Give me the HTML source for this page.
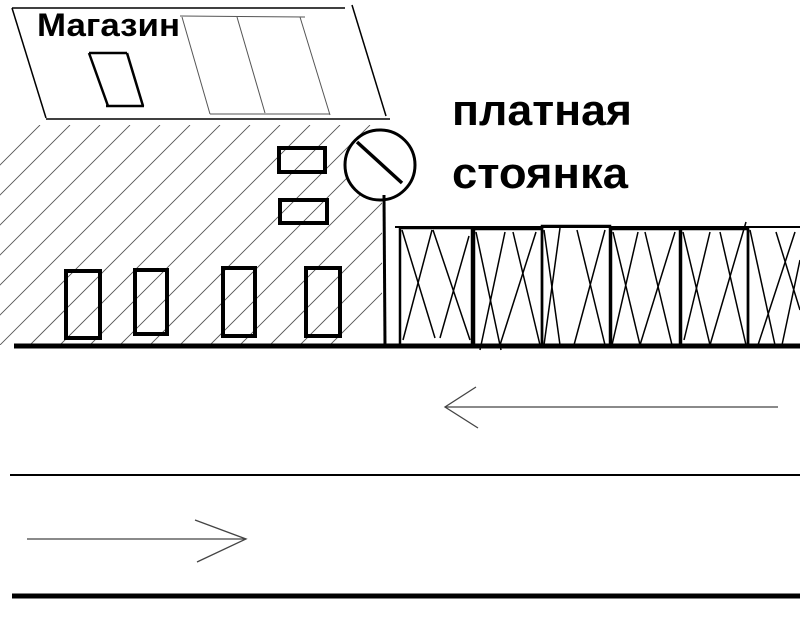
<!DOCTYPE html>
<html><head><meta charset="utf-8"><style>html,body{margin:0;padding:0;background:#fff}svg{display:block}</style></head>
<body>
<svg width="800" height="640" viewBox="0 0 800 640" xmlns="http://www.w3.org/2000/svg">
<defs><clipPath id="c"><rect x="0" y="125" width="382" height="220"/></clipPath></defs>
<rect width="800" height="640" fill="#fff"/>
<g stroke="#000" fill="none" stroke-width="1.5">
<line x1="12" y1="8" x2="345" y2="8"/>
<line x1="12" y1="8" x2="46" y2="118"/>
<line x1="352" y1="5" x2="386" y2="116"/>
<line x1="46" y1="119" x2="390" y2="119"/>
</g>
<g stroke="#555" fill="none" stroke-width="1">
<line x1="180" y1="16" x2="305" y2="17"/>
<line x1="182" y1="17" x2="210" y2="114"/>
<line x1="237" y1="17" x2="265" y2="113"/>
<line x1="300" y1="17" x2="330" y2="115"/>
<line x1="210" y1="114" x2="330" y2="114"/>
</g>
<g stroke="#000" fill="none" stroke-width="2.5">
<line x1="89" y1="53" x2="127" y2="53"/>
<line x1="89" y1="53" x2="108" y2="106"/>
<line x1="127" y1="53" x2="143" y2="106"/>
<line x1="106" y1="106" x2="144" y2="106"/>
</g>
<text x="37" y="36" font-family="Liberation Sans, sans-serif" font-weight="bold" font-size="32" textLength="143" lengthAdjust="spacingAndGlyphs" fill="#000">Магазин</text>
<g clip-path="url(#c)" stroke="#555" stroke-width="0.9">
<line x1="-60" y1="345" x2="160" y2="125"/>
<line x1="-90" y1="345" x2="130" y2="125"/>
<line x1="-120" y1="345" x2="100" y2="125"/>
<line x1="-150" y1="345" x2="70" y2="125"/>
<line x1="-180" y1="345" x2="40" y2="125"/>
<line x1="-30" y1="345" x2="190" y2="125"/>
<line x1="0" y1="345" x2="220" y2="125"/>
<line x1="30" y1="345" x2="250" y2="125"/>
<line x1="60" y1="345" x2="280" y2="125"/>
<line x1="90" y1="345" x2="310" y2="125"/>
<line x1="120" y1="345" x2="340" y2="125"/>
<line x1="150" y1="345" x2="370" y2="125"/>
<line x1="180" y1="345" x2="400" y2="125"/>
<line x1="210" y1="345" x2="430" y2="125"/>
<line x1="240" y1="345" x2="460" y2="125"/>
<line x1="270" y1="345" x2="490" y2="125"/>
<line x1="300" y1="345" x2="520" y2="125"/>
<line x1="330" y1="345" x2="550" y2="125"/>
</g>
<g stroke="#000" fill="none" stroke-width="4">
<rect x="279" y="148" width="46" height="24"/>
<rect x="280" y="200" width="47" height="23"/>
<rect x="66" y="271" width="34" height="67"/>
<rect x="135" y="270" width="32" height="64"/>
<rect x="223" y="268" width="32" height="68"/>
<rect x="306" y="268" width="34" height="68"/>
</g>
<circle cx="380" cy="165" r="35" stroke="#000" stroke-width="3" fill="#fff"/>
<line x1="357" y1="142" x2="402" y2="183" stroke="#000" stroke-width="3.5"/>
<line x1="384" y1="195" x2="385" y2="347" stroke="#000" stroke-width="3"/>
<line x1="395" y1="227" x2="800" y2="227" stroke="#000" stroke-width="2"/>
<g stroke="#000" fill="none" stroke-width="2.5">
<rect x="400" y="228" width="72" height="118"/>
<rect x="474" y="229" width="68" height="117"/>
<rect x="542" y="226" width="68" height="121"/>
<rect x="611" y="229" width="69" height="117"/>
<rect x="681" y="229" width="67" height="117"/>
<line x1="748" y1="229" x2="748" y2="346"/>
</g>
<g stroke="#000" stroke-width="1.5">
<line x1="402" y1="230" x2="435" y2="338"/><line x1="432" y1="230" x2="403" y2="340"/>
<line x1="433" y1="230" x2="470" y2="340"/><line x1="469" y1="236" x2="440" y2="338"/>
<line x1="476" y1="232" x2="501" y2="350"/><line x1="505" y1="232" x2="480" y2="350"/>
<line x1="513" y1="232" x2="540" y2="345"/><line x1="536" y1="232" x2="500" y2="345"/>
<line x1="544" y1="230" x2="560" y2="345"/><line x1="560" y1="228" x2="544" y2="345"/>
<line x1="577" y1="230" x2="605" y2="345"/><line x1="605" y1="230" x2="574" y2="345"/>
<line x1="613" y1="232" x2="640" y2="345"/><line x1="638" y1="232" x2="612" y2="345"/>
<line x1="645" y1="232" x2="672" y2="345"/><line x1="675" y1="232" x2="640" y2="345"/>
<line x1="683" y1="232" x2="710" y2="345"/><line x1="710" y1="232" x2="684" y2="340"/>
<line x1="720" y1="232" x2="746" y2="345"/><line x1="746" y1="222" x2="710" y2="345"/>
<line x1="750" y1="230" x2="775" y2="345"/><line x1="795" y1="232" x2="758" y2="345"/>
<line x1="776" y1="232" x2="800" y2="310"/><line x1="800" y1="260" x2="782" y2="345"/>
</g>
<line x1="14" y1="346" x2="800" y2="346" stroke="#000" stroke-width="5"/>
<text x="452" y="125" font-family="Liberation Sans, sans-serif" font-weight="bold" font-size="44" textLength="180" lengthAdjust="spacingAndGlyphs" fill="#000">платная</text>
<text x="452" y="188" font-family="Liberation Sans, sans-serif" font-weight="bold" font-size="44" textLength="176" lengthAdjust="spacingAndGlyphs" fill="#000">стоянка</text>
<g stroke="#444" stroke-width="1.3" fill="none">
<line x1="445" y1="407" x2="778" y2="407"/>
<polyline points="476,387 445,407 478,428"/>
<line x1="27" y1="539" x2="246" y2="539"/>
<polyline points="195,520 246,539 197,562"/>
</g>
<line x1="10" y1="475" x2="800" y2="475" stroke="#000" stroke-width="2"/>
<line x1="12" y1="596" x2="800" y2="596" stroke="#000" stroke-width="5"/>
</svg>
</body></html>
